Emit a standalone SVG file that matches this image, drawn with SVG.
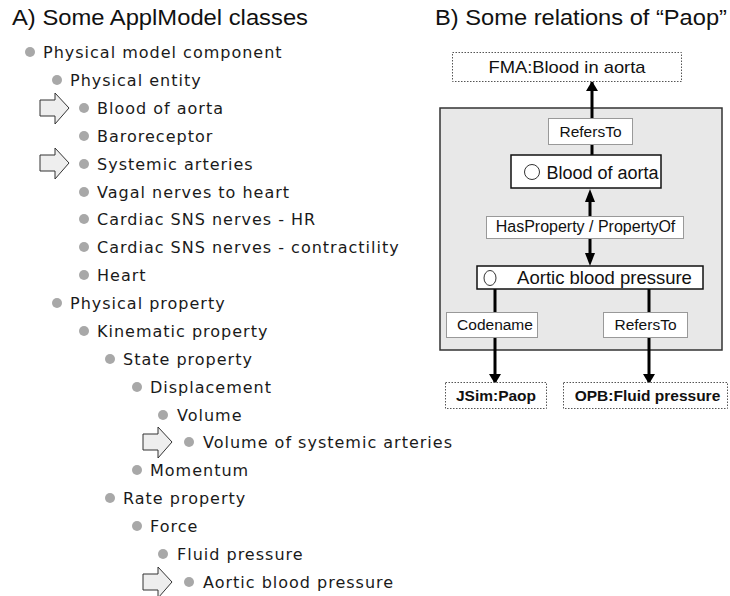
<svg xmlns="http://www.w3.org/2000/svg" width="730" height="596" viewBox="0 0 730 596">
<defs>
<style>
.title{font-family:"Liberation Sans",Arial,sans-serif;font-size:21.5px;fill:#111}
.tree{font-family:"DejaVu Sans","Noto Sans",sans-serif;font-size:16px;letter-spacing:1px;fill:#1a1a1a}
.bul{fill:#a8a8a8}
.barr{fill:#eeeeee;stroke:#333;stroke-width:1}
.lbl{font-family:"Liberation Sans",Arial,sans-serif;fill:#111;text-anchor:middle}
.bold{font-weight:bold}
.dot{fill:#fff;stroke:#555;stroke-width:1;stroke-dasharray:1.5 1.5}
.gbox{fill:#fff;stroke:#999;stroke-width:1}
.kbox{fill:#fff;stroke:#111;stroke-width:1.5}
.con{stroke:#000;stroke-width:3;fill:none}
</style>
<marker id="ah" viewBox="0 0 10 12" refX="9" refY="6" markerWidth="10" markerHeight="12" markerUnits="userSpaceOnUse" orient="auto">
<path d="M0,0 L10,6 L0,12 Z" fill="#000"/>
</marker>
</defs>
<rect width="730" height="596" fill="#fff"/>

<text class="title" x="12" y="25" textLength="296" lengthAdjust="spacingAndGlyphs">A) Some ApplModel classes</text>
<text class="title" x="435" y="25" textLength="292" lengthAdjust="spacingAndGlyphs">B) Some relations of “Paop”</text>

<g id="tree">
<g id="n0"><circle class="bul" cx="30" cy="52" r="5"/><text class="tree" x="43" y="58">Physical model component</text></g>
<g id="n1"><circle class="bul" cx="57" cy="80" r="5"/><text class="tree" x="70" y="86">Physical entity</text></g>
<g id="n2"><circle class="bul" cx="84" cy="108" r="5"/><text class="tree" x="97" y="114">Blood of aorta</text></g>
<g id="n3"><circle class="bul" cx="84" cy="136" r="5"/><text class="tree" x="97" y="142">Baroreceptor</text></g>
<g id="n4"><circle class="bul" cx="84" cy="164" r="5"/><text class="tree" x="97" y="170">Systemic arteries</text></g>
<g id="n5"><circle class="bul" cx="84" cy="192" r="5"/><text class="tree" x="97" y="198">Vagal nerves to heart</text></g>
<g id="n6"><circle class="bul" cx="84" cy="219" r="5"/><text class="tree" x="97" y="225">Cardiac SNS nerves - HR</text></g>
<g id="n7"><circle class="bul" cx="84" cy="247" r="5"/><text class="tree" x="97" y="253">Cardiac SNS nerves - contractility</text></g>
<g id="n8"><circle class="bul" cx="84" cy="275" r="5"/><text class="tree" x="97" y="281">Heart</text></g>
<g id="n9"><circle class="bul" cx="57" cy="303" r="5"/><text class="tree" x="70" y="309">Physical property</text></g>
<g id="n10"><circle class="bul" cx="84" cy="331" r="5"/><text class="tree" x="97" y="337">Kinematic property</text></g>
<g id="n11"><circle class="bul" cx="110" cy="359" r="5"/><text class="tree" x="123" y="365">State property</text></g>
<g id="n12"><circle class="bul" cx="137" cy="387" r="5"/><text class="tree" x="150" y="393">Displacement</text></g>
<g id="n13"><circle class="bul" cx="163" cy="415" r="5"/><text class="tree" x="177" y="421">Volume</text></g>
<g id="n14"><circle class="bul" cx="189" cy="442" r="5"/><text class="tree" x="203" y="448">Volume of systemic arteries</text></g>
<g id="n15"><circle class="bul" cx="137" cy="470" r="5"/><text class="tree" x="150" y="476">Momentum</text></g>
<g id="n16"><circle class="bul" cx="110" cy="498" r="5"/><text class="tree" x="123" y="504">Rate property</text></g>
<g id="n17"><circle class="bul" cx="137" cy="526" r="5"/><text class="tree" x="150" y="532">Force</text></g>
<g id="n18"><circle class="bul" cx="163" cy="554" r="5"/><text class="tree" x="177" y="560">Fluid pressure</text></g>
<g id="n19"><circle class="bul" cx="189" cy="582" r="5"/><text class="tree" x="203" y="588">Aortic blood pressure</text></g>
</g>

<g id="pointers">
<path class="barr" d="M40,100 H55 V93 L69,108 L55,124 V116 H40 Z"/>
<path class="barr" d="M40,155 H55 V148 L69,163 L55,179 V171 H40 Z"/>
<path class="barr" d="M143,434 H158 V427 L172,442 L158,458 V450 H143 Z"/>
<path class="barr" d="M143,574 H158 V567 L172,582 L158,598 V590 H143 Z"/>
</g>

<g id="panel"><rect x="440" y="108" width="282" height="242" fill="#e8e8e8" stroke="#333" stroke-width="1.5"/></g>

<g id="connectors">
<line class="con" x1="592" y1="155" x2="592" y2="82" marker-end="url(#ah)"/>
<line class="con" x1="590" y1="198" x2="590" y2="257"/>
<path d="M585,202 L590,189 L595,202 Z" fill="#000"/>
<path d="M585,253 L590,266 L595,253 Z" fill="#000"/>
<line class="con" x1="495" y1="289" x2="495" y2="383" marker-end="url(#ah)"/>
<line class="con" x1="649" y1="289" x2="649" y2="383" marker-end="url(#ah)"/>
</g>

<g id="fma"><rect class="dot" x="452.5" y="52.5" width="229" height="29"/><text class="lbl" x="567" y="73" font-size="17" textLength="157" lengthAdjust="spacingAndGlyphs">FMA:Blood in aorta</text></g>
<g id="refersto1"><rect class="gbox" x="548.5" y="118.5" width="84" height="26"/><text class="lbl" x="590.5" y="137" font-size="15.5">RefersTo</text></g>
<g id="blood"><rect class="kbox" x="511" y="155" width="150" height="33"/><circle cx="532" cy="172" r="7.5" fill="#fff" stroke="#333" stroke-width="1"/><text class="lbl" x="602.5" y="179" font-size="18">Blood of aorta</text></g>
<g id="hasprop"><rect class="gbox" x="486.5" y="216.5" width="197" height="22"/><text class="lbl" x="585.5" y="232" font-size="16">HasProperty / PropertyOf</text></g>
<g id="aortic"><rect class="kbox" x="477" y="266" width="226" height="23"/><ellipse cx="490" cy="278" rx="6" ry="7.5" fill="#fff" stroke="#333" stroke-width="1"/><text class="lbl" x="604.5" y="284" font-size="18.5">Aortic blood pressure</text></g>
<g id="codename"><rect class="gbox" x="446.5" y="312.5" width="91" height="25"/><text class="lbl" x="495" y="330" font-size="15.5">Codename</text></g>
<g id="refersto2"><rect class="gbox" x="603.5" y="312.5" width="84" height="25"/><text class="lbl" x="645.5" y="330" font-size="15.5">RefersTo</text></g>
<g id="jsim"><rect class="dot" x="445.5" y="382.5" width="101" height="26"/><text class="lbl bold" x="496" y="401" font-size="15.5">JSim:Paop</text></g>
<g id="opb"><rect class="dot" x="563.5" y="382.5" width="164" height="26"/><text class="lbl bold" x="647.5" y="401" font-size="15.5">OPB:Fluid pressure</text></g>
</svg>
